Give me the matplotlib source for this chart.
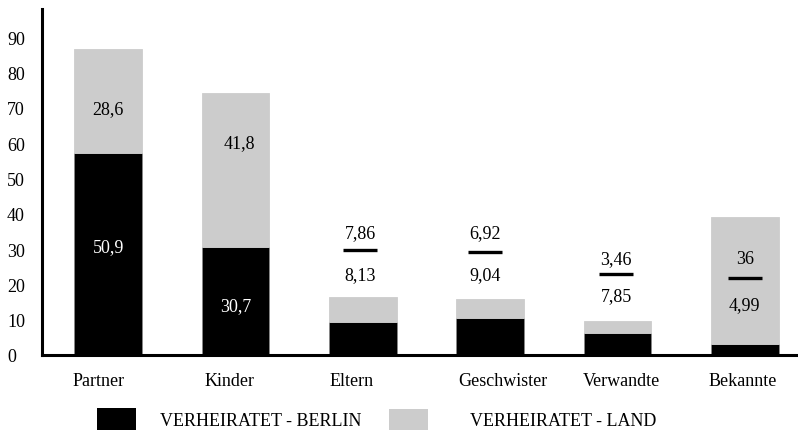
import matplotlib
matplotlib.use("Agg")
import matplotlib.pyplot as plt
from matplotlib.patches import Rectangle

plt.rcParams['font.family'] = ['Liberation Serif', 'DejaVu Serif']

categories = ["Partner", "Kinder", "Eltern", "Geschwister", "Verwandte", "Bekannte"]
berlin = [57.2, 30.6, 9.3, 10.4, 6.2, 3.1]
land = [29.5, 43.6, 7.2, 5.5, 3.4, 35.9]
berlin_labels = ["50,9", "30,7", "8,13", "9,04", "7,85", "4,99"]
land_labels = ["28,6", "41,8", "7,86", "6,92", "3,46", "36"]
yticks = [0, 10, 20, 30, 40, 50, 60, 70, 80, 90]

fs = 13
fig = plt.figure(figsize=(7.98, 4.31), dpi=100)
ax = fig.add_axes([42/798, 1 - 356/431, 755/798, 346/431])

x = list(range(len(categories)))
w = 0.53
ax.bar(x, berlin, width=w, color="black", edgecolor="#888888", linewidth=0.6)
ax.bar(x, land, width=w, bottom=berlin, color="#cccccc", edgecolor="#cccccc", linewidth=0.6)

ax.set_xlim(-0.52, 5.41)
ax.set_ylim(0, 98)
ax.set_yticks(yticks)
ax.set_yticklabels([str(t) for t in yticks], ha="left")
ax.tick_params(axis="y", length=0, pad=25.2, labelsize=fs)
label_dx = [-0.075, -0.047, -0.086, 0.10, 0.03, -0.016]
ax.set_xticks([xi + d for xi, d in zip(x, label_dx)])
ax.set_xticklabels(categories)
ax.tick_params(axis="x", length=0, pad=12, labelsize=fs)
for s in ["top", "right"]:
    ax.spines[s].set_visible(False)
ax.spines["left"].set_linewidth(2.2)
ax.spines["bottom"].set_linewidth(2.2)

# labels inside the first two bars
ax.text(0, 30.6, berlin_labels[0], color="white", ha="center", va="center", fontsize=fs)
ax.text(0, 69.7, land_labels[0], color="black", ha="center", va="center", fontsize=fs)
ax.text(1, 13.9, berlin_labels[1], color="white", ha="center", va="center", fontsize=fs)
ax.text(1.03, 60.3, land_labels[1], color="black", ha="center", va="center", fontsize=fs)

# fraction-style labels for the remaining bars
frac_top = [None, None, 34.6, 34.6, 27.2, 27.2]
frac_line = [None, None, 29.7, 29.1, 22.9, 21.8]
frac_bot = [None, None, 22.7, 22.7, 16.8, 14.2]
frac_dx = [0, 0, -0.02, -0.04, -0.01, 0.0]
for i in range(2, 6):
    cx = i + frac_dx[i]
    ax.text(cx, frac_top[i], land_labels[i], ha="center", va="center", fontsize=fs)
    ax.text(cx, frac_bot[i], berlin_labels[i], ha="center", va="center", fontsize=fs)
    ax.plot([cx - 0.135, cx + 0.135], [frac_line[i]] * 2, color="black", lw=2.4,
            solid_capstyle="butt")

# legend drawn manually
fig.patches.append(Rectangle((97/798, 0), 39/798, 22/431, transform=fig.transFigure,
                             facecolor="black", edgecolor="none"))
fig.text(160/798, 1 - 422/431, "VERHEIRATET - BERLIN", fontsize=fs, va="center", ha="left")
fig.patches.append(Rectangle((389/798, 0), 39/798, 21/431, transform=fig.transFigure,
                             facecolor="#cccccc", edgecolor="none"))
fig.text(470/798, 1 - 422/431, "VERHEIRATET - LAND", fontsize=fs, va="center", ha="left")

fig.savefig("out.png", dpi=100)
